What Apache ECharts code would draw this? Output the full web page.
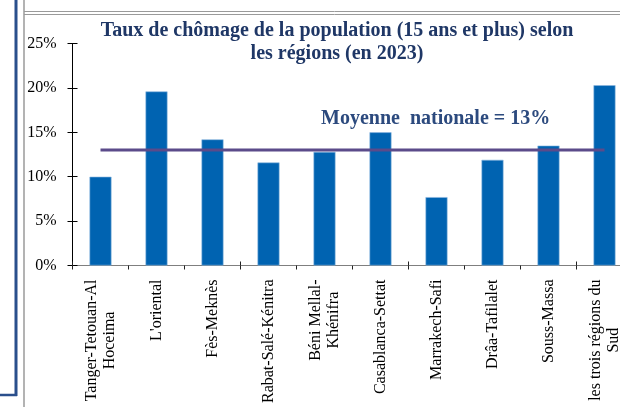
<!DOCTYPE html>
<html>
<head>
<meta charset="utf-8">
<script src="https://cdn.jsdelivr.net/npm/echarts@6/dist/echarts.min.js"></script>
<style>
  html, body { margin: 0; padding: 0; background: #fff; overflow: hidden; width: 620px; height: 407px; }
  #chart { width: 645px; height: 407px; }
</style>
</head>
<body>
<div id="chart"></div>
<script>
// ----- data -----
const regions = [
  'Tanger-Tetouan-Al\nHoceima',
  "L'oriental",
  'Fès-Meknès',
  'Rabat-Salé-Kénitra',
  'Béni Mellal-\nKhénifra',
  'Casablanca-Settat',
  'Marrakech-Safi',
  'Drâa-Tafilalet',
  'Souss-Massa',
  'les trois régions du\nSud'
]
const chomage = [10.0, 19.6, 14.2, 11.6, 12.8, 15.0, 7.7, 11.9, 13.5, 20.3]
const moyenne = [13, 13, 13, 13, 13, 13, 13, 13, 13, 13]
const yTicks = [0, 5, 10, 15, 20, 25]

const serif = '"Liberation Serif", "DejaVu Serif", serif'
const navy = '#1f3766'

const chart = echarts.init(document.getElementById('chart'))

const yBase = {
  type: 'value',
  min: yTicks[0],
  max: yTicks[yTicks.length - 1],
  interval: yTicks[1] - yTicks[0],
  splitLine: { show: false },
  axisLine: { show: true, lineStyle: { color: '#000', width: 1 } }
}

chart.setOption({
  backgroundColor: '#fff',
  animation: false,
  title: [
    {
      text: 'Taux de chômage de la population (15 ans et plus) selon\nles régions (en 2023)',
      left: 332,
      top: 14,
      textAlign: 'center',
      textStyle: { fontFamily: serif, fontSize: 20, fontWeight: 'bold', color: navy, lineHeight: 23 }
    },
    {
      text: 'Moyenne  nationale = 13%',
      left: 316,
      top: 104,
      textStyle: { fontFamily: serif, fontSize: 20, fontWeight: 'bold', color: '#2c4a7e' }
    }
  ],
  graphic: [
    // left blue frame
    { type: 'line', shape: { x1: 16, y1: 0, x2: 16, y2: 396 }, style: { stroke: '#2a4f8c', lineWidth: 3 } },
    { type: 'line', shape: { x1: 0, y1: 395, x2: 17, y2: 395 }, style: { stroke: '#2a4f8c', lineWidth: 2.5 } },
    // grey panel borders
    { type: 'line', shape: { x1: 24, y1: 0, x2: 24, y2: 407 }, style: { stroke: '#9a9a9a', lineWidth: 1.5 } },
    { type: 'line', shape: { x1: 24, y1: 11.5, x2: 645, y2: 11.5 }, style: { stroke: '#9a9a9a', lineWidth: 1 } },
    { type: 'line', shape: { x1: 24, y1: 14.5, x2: 645, y2: 14.5 }, style: { stroke: '#9a9a9a', lineWidth: 1 } }
  ],
  grid: { left: 72.5, top: 43.5, width: 560, height: 222 },
  xAxis: [{
    type: 'category',
    data: regions,
    axisLine: { lineStyle: { color: '#7f7f7f', width: 1 } },
    axisTick: { show: true, length: 4, inside: false, lineStyle: { color: '#222' } },
    axisLabel: {
      rotate: 90,
      margin: 14,
      interval: 0,
      formatter: v => v.split('\n').map(s => '{c|' + s + '}').join('\n'),
      rich: { c: { align: 'center', fontFamily: serif, fontSize: 16, color: '#000', lineHeight: 18 } }
    }
  }, {
    type: 'category',
    data: regions,
    position: 'bottom',
    axisLine: { show: false },
    axisTick: { show: true, length: 4, inside: true, lineStyle: { color: '#222' } },
    axisLabel: { show: false }
  }],
  yAxis: [
    Object.assign({}, yBase, {
      axisTick: { show: true, length: 5, lineStyle: { color: '#000' } },
      axisLabel: {
        margin: 16,
        formatter: v => v + '%',
        fontFamily: serif, fontSize: 16, color: '#000'
      }
    }),
    Object.assign({}, yBase, {
      position: 'left',
      axisTick: { show: true, length: 5, inside: true, lineStyle: { color: '#000' } },
      axisLabel: { show: false }
    })
  ],
  series: [
    {
      type: 'bar',
      data: chomage,
      barWidth: 22,
      itemStyle: { color: '#0063b1', borderColor: '#8fb8e0', borderWidth: 0.6 }
    },
    {
      type: 'line',
      data: moyenne,
      symbol: 'none',
      lineStyle: { color: '#5b4b8a', width: 3 },
      z: 3
    }
  ]
})
</script>
</body>
</html>
